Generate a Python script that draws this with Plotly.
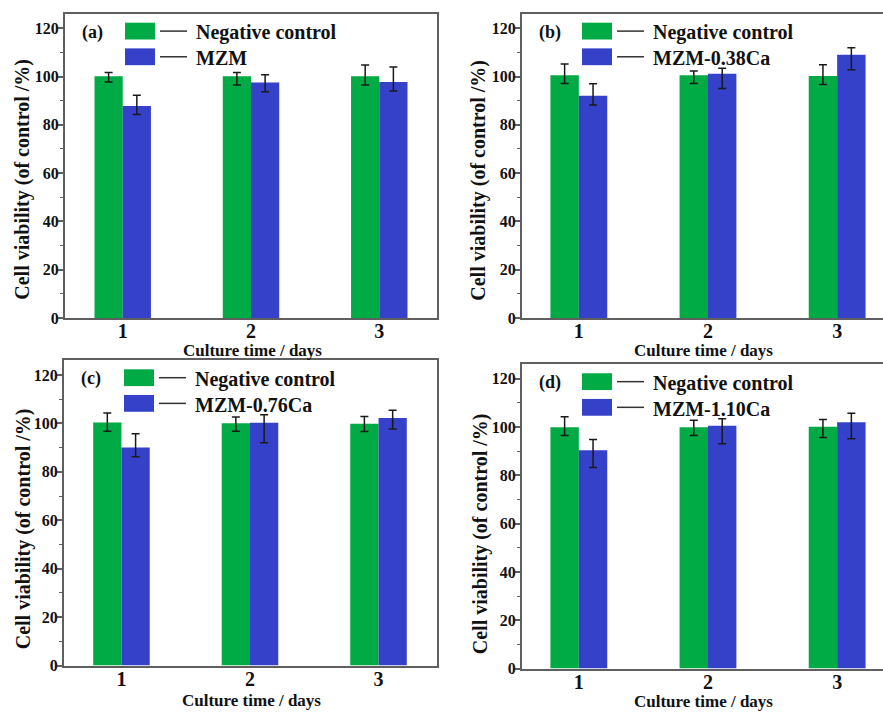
import plotly.graph_objects as go

# Culture time (days)
days = [1, 2, 3]
y_ticks = [0, 20, 40, 60, 80, 100, 120]

panel_labels = ["(a)", "(b)", "(c)", "(d)"]
sample_names = ["MZM", "MZM-0.38Ca", "MZM-0.76Ca", "MZM-1.10Ca"]
x_title = "Culture time / days"
y_title = "Cell viability (of control /%)"

# Negative control viability (%) and error bar extents (upper / lower)
control_a = [100.1, 100.1, 100.1]
control_a_up = [1.6, 1.6, 4.7]
control_a_dn = [2.3, 3.6, 3.6]
control_b = [100.5, 100.5, 100.2]
control_b_up = [4.7, 1.8, 4.7]
control_b_dn = [3.4, 3.4, 3.5]
control_c = [100.4, 100.1, 99.8]
control_c_up = [3.9, 2.5, 3.0]
control_c_dn = [3.6, 3.4, 3.2]
control_d = [99.9, 99.9, 100.2]
control_d_up = [4.4, 3.0, 3.0]
control_d_dn = [3.4, 3.4, 4.5]

# Sample viability (%) and error bar extents
sample_a = [87.8, 97.5, 97.8]
sample_a_up = [4.5, 3.3, 6.2]
sample_a_dn = [3.5, 3.8, 3.8]
sample_b = [92.1, 101.2, 109.0]
sample_b_up = [4.9, 2.2, 2.9]
sample_b_dn = [3.9, 6.1, 6.2]
sample_c = [90.0, 100.3, 102.2]
sample_c_up = [5.7, 3.3, 3.2]
sample_c_dn = [3.8, 8.3, 4.5]
sample_d = [90.4, 100.6, 102.0]
sample_d_up = [4.5, 2.9, 3.8]
sample_d_dn = [7.1, 7.5, 6.8]

controls = [(control_a, control_a_up, control_a_dn), (control_b, control_b_up, control_b_dn),
            (control_c, control_c_up, control_c_dn), (control_d, control_d_up, control_d_dn)]
samples = [(sample_a, sample_a_up, sample_a_dn), (sample_b, sample_b_up, sample_b_dn),
           (sample_c, sample_c_up, sample_c_dn), (sample_d, sample_d_up, sample_d_dn)]

W, H = 883, 718
GREEN = "#00AA44"
BLUE = "#3441C8"
AXIS = "#5f5f5f"
INK = "#111111"
FONT = "Liberation Serif, Times New Roman, serif"

# Plot boxes in pixels: left, top, right, bottom
boxes = [(65, 14, 437, 322), (522, 14, 883, 322), (64, 365, 437, 674), (522, 369, 883, 677)]
x_ranges = [[0.55, 3.45], [0.56, 3.355], [0.553, 3.455], [0.56, 3.355]]
right_frame = [True, False, True, False]
# Axis title centres in pixels: (y-title x, y-title y, x-title y)
title_pos = [(23, 182, 355), (479, 183, 355), (23, 536, 709), (480, 540, 710)]


def px_x(v):
    return v / W


def px_y(v):
    return 1 - v / H


def bold(s):
    return "<b>" + s + "</b>"


fig = go.Figure()
shapes = []
annotations = []

for i in range(4):
    ax = "" if i == 0 else str(i + 1)
    xa, ya = "x" + ax, "y" + ax
    left, top, right, bottom = boxes[i]

    for (vals, up, dn), color, name in [(controls[i], GREEN, "Negative control"),
                                        (samples[i], BLUE, sample_names[i])]:
        fig.add_trace(go.Bar(
            x=days, y=vals, name=name, xaxis=xa, yaxis=ya,
            marker=dict(color=color, line=dict(width=0)),
            error_y=dict(type="data", symmetric=False, array=up, arrayminus=dn,
                         color="#1a1a1a", thickness=1.5, width=4),
            showlegend=False,
        ))

    fig.update_layout(**{
        "xaxis" + ax: dict(
            domain=[px_x(left), px_x(right)], anchor=ya, range=x_ranges[i],
            tickvals=days, ticktext=[bold(str(d)) for d in days], ticks="",
            ticklabelstandoff=-6,
            showline=True, linecolor=AXIS, linewidth=2,
            mirror=True, showgrid=False, zeroline=False,
            tickfont=dict(family=FONT, size=20, color=INK),
        ),
        "yaxis" + ax: dict(
            domain=[px_y(bottom), px_y(top)], anchor=xa, range=[0, 126],
            tickvals=y_ticks, ticktext=[bold(str(t)) for t in y_ticks],
            ticks="outside", ticklen=5, tickwidth=1.5, tickcolor=AXIS,
            ticklabelstandoff=-4,
            minor=dict(tickvals=[10, 30, 50, 70, 90, 110], ticks="outside", ticklen=3,
                       tickwidth=1.2, tickcolor=AXIS),
            showline=True, linecolor=AXIS, linewidth=2, mirror=right_frame[i],
            showgrid=False, zeroline=False,
            tickfont=dict(family=FONT, size=16, color=INK),
        ),
    })

    # Axis titles
    tx, ty, xty = title_pos[i]
    annotations.append(dict(xref="paper", yref="paper", x=px_x(tx), y=px_y(ty),
                            xanchor="center", yanchor="middle", textangle=-90,
                            text=bold(y_title), showarrow=False,
                            font=dict(family=FONT, size=20, color=INK)))
    annotations.append(dict(xref="paper", yref="paper", x=px_x((left + right) / 2 + 1),
                            y=px_y(xty), xanchor="center", yanchor="middle",
                            text=bold(x_title), showarrow=False,
                            font=dict(family=FONT, size=17, color=INK)))

    # Legend keys: filled swatch followed by a short line and the series name
    rows = [(9, 26, GREEN, "Negative control"), (35, 52, BLUE, sample_names[i])]
    for y0, y1, color, label in rows:
        shapes.append(dict(type="rect", xref="paper", yref="paper",
                           x0=px_x(left + 60), x1=px_x(left + 90),
                           y0=px_y(top + y1), y1=px_y(top + y0),
                           fillcolor=color, line=dict(width=0)))
        yc = top + (y0 + y1) / 2
        shapes.append(dict(type="line", xref="paper", yref="paper",
                           x0=px_x(left + 95), x1=px_x(left + 122),
                           y0=px_y(yc), y1=px_y(yc),
                           line=dict(color="#333333", width=1.5)))
        annotations.append(dict(xref="paper", yref="paper", x=px_x(left + 129),
                                y=px_y(yc + 1.5), xanchor="left", yanchor="middle",
                                text=bold(label), showarrow=False,
                                font=dict(family=FONT, size=20, color=INK)))
    annotations.append(dict(xref="paper", yref="paper", x=px_x(left + 15),
                            y=px_y(top + 18.5), xanchor="left", yanchor="middle",
                            text=bold(panel_labels[i]), showarrow=False,
                            font=dict(family=FONT, size=18, color=INK)))

fig.update_layout(
    width=W, height=H,
    margin=dict(l=0, r=0, t=0, b=0),
    paper_bgcolor="white", plot_bgcolor="white",
    barmode="group", bargap=0.56, bargroupgap=0,
    shapes=shapes, annotations=annotations,
    font=dict(family=FONT, color=INK),
)

fig.write_html("out.html")
